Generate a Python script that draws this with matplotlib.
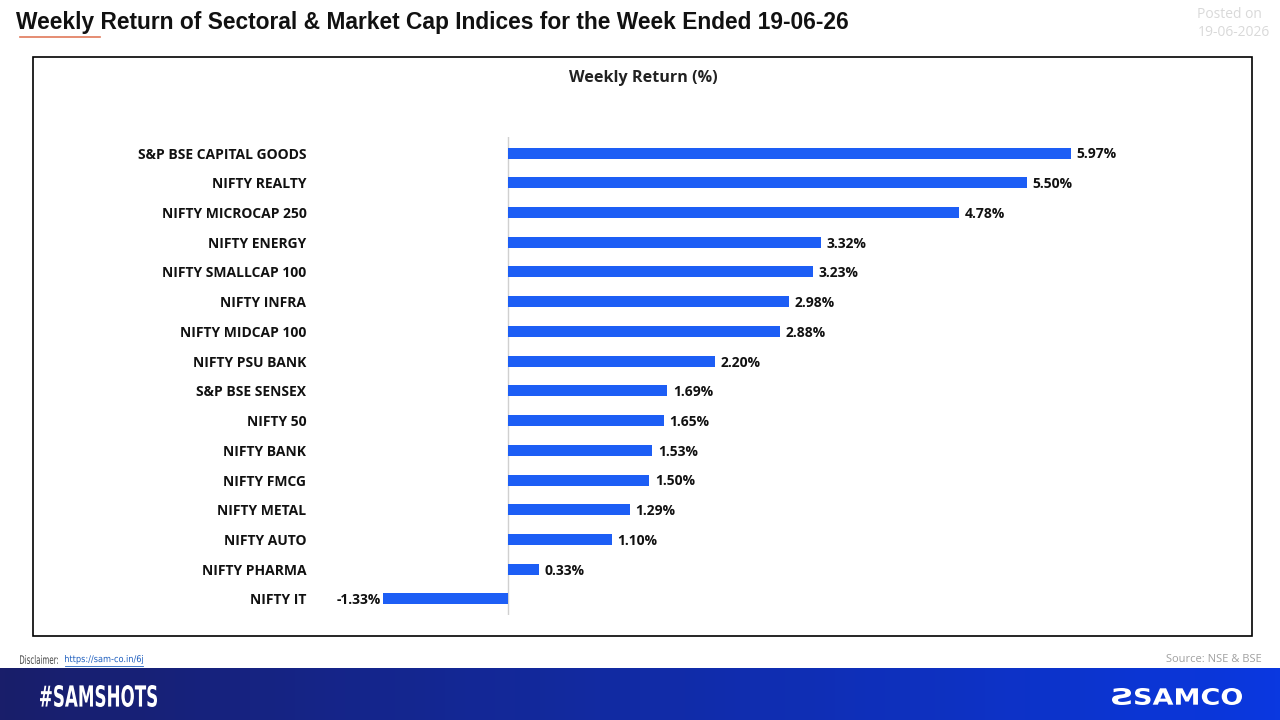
import numpy as np
import matplotlib
matplotlib.use("Agg")
import matplotlib.pyplot as plt
from matplotlib.patches import Rectangle, PathPatch
from matplotlib.lines import Line2D
from matplotlib.textpath import TextPath
from matplotlib.font_manager import FontProperties
from matplotlib.transforms import Affine2D

categories = ["S&P BSE CAPITAL GOODS", "NIFTY REALTY", "NIFTY MICROCAP 250", "NIFTY ENERGY",
              "NIFTY SMALLCAP 100", "NIFTY INFRA", "NIFTY MIDCAP 100", "NIFTY PSU BANK",
              "S&P BSE SENSEX", "NIFTY 50", "NIFTY BANK", "NIFTY FMCG", "NIFTY METAL",
              "NIFTY AUTO", "NIFTY PHARMA", "NIFTY IT"]
returns = [5.97, 5.50, 4.78, 3.32, 3.23, 2.98, 2.88, 2.20, 1.69, 1.65, 1.53, 1.50, 1.29, 1.10, 0.33, -1.33]

title = "Weekly Return of Sectoral & Market Cap Indices for the Week Ended 19-06-26"
chart_title = "Weekly Return (%)"

W, H = 1280, 720
fig = plt.figure(figsize=(12.8, 7.2), dpi=100)
fig.patch.set_facecolor("white")


def fx(px):
    return px / W


def fy(py):
    return 1 - py / H


# overlay axes in pixel coordinates (y up) for fitted text
ov = fig.add_axes([0, 0, 1, 1], zorder=5)
ov.set_xlim(0, W)
ov.set_ylim(0, H)
ov.set_axis_off()
ov.patch.set_alpha(0)


def fitted_text(s, x0, x1, ytop, ybot, color, family="DejaVu Sans", weight="bold", ref_h=None):
    fp = FontProperties(family=family, weight=weight)
    tp = TextPath((0, 0), s, size=1, prop=fp)
    ext = tp.get_extents()
    sx = (x1 - x0) / ext.width
    h = ref_h if ref_h is not None else ext.height
    sy = (ybot - ytop) / h
    tr = Affine2D().translate(-ext.x0, -ext.y0).scale(sx, sy).translate(x0, H - ybot)
    ov.add_patch(PathPatch(tr.transform_path(tp), facecolor=color, edgecolor="none", lw=0))


# Banner gradient
bax = fig.add_axes([0, 0, 1, 52 / H])
bax.set_axis_off()
c1 = np.array([0x19, 0x1e, 0x6a]) / 255
c2 = np.array([0x0a, 0x38, 0xe0]) / 255
t = np.linspace(0, 1, 256)
grad = (c1[None, :] * (1 - t[:, None]) + c2[None, :] * t[:, None])[None, :, :]
bax.imshow(grad, aspect="auto", extent=[0, 1, 0, 1])
bax.set_xlim(0, 1)
bax.set_ylim(0, 1)

fitted_text("#SAMSHOTS", 40, 157, 685, 707, "white")
fitted_text("SAMCO", 1135, 1242, 688, 705, "white", family="DejaVu Sans", weight="heavy")
fitted_text("\u01A7", 1112, 1131, 688, 705, "white")

# Outer box
fig.add_artist(Rectangle((fx(33), fy(636)), fx(1252) - fx(33), fy(57) - fy(636),
                         fill=False, edgecolor="black", lw=1.2, transform=fig.transFigure))

# Title & decorations
fig.text(fx(16), fy(22), title, fontsize=16.4, fontweight="bold", family="Liberation Sans",
         color="#111111", va="center", ha="left")
fig.add_artist(Line2D([fx(20), fx(100)], [fy(37), fy(37)], color="#e0795a", lw=1.2,
                      transform=fig.transFigure))
fig.text(fx(1262), fy(14), "Posted on", fontsize=10, color="#d9d9d9", ha="right", va="center",
         family="Open Sans")
fig.text(fx(1270), fy(33), "19-06-2026", fontsize=10, color="#d9d9d9", ha="right", va="center",
         family="Open Sans")
fitted_text("Disclaimer:", 20, 58, 655, 664, "#444444", weight="normal")
fitted_text("https://sam-co.in/6j", 65, 143, 655, 664, "#1f5fbf", weight="normal")
fig.add_artist(Line2D([fx(65), fx(143)], [fy(666), fy(666)], color="#1f5fbf", lw=0.6,
                      transform=fig.transFigure))
fig.text(fx(1262), fy(659), "Source: NSE & BSE", fontsize=8, color="#a0a0a0", ha="right",
         va="center", family="Open Sans")

# Chart
fig.text(fx(643), fy(78), chart_title, fontsize=11.6, fontweight="bold", family="Open Sans",
         color="#222222", ha="center", va="center")

ax = fig.add_axes([fx(330), fy(615), fx(1150) - fx(330), (615 - 137) / H])
y = np.arange(len(categories))
bar_color = "#1d5ef5"
ax.barh(y, returns, height=0.37, color=bar_color, zorder=2)
ax.set_xlim((330 - 508) / 94.3, (1150 - 508) / 94.3)
ax.set_ylim(15.54, -0.54)
ax.axvline(0, color="#d0d0d0", lw=1, zorder=1)
for s in ax.spines.values():
    s.set_visible(False)
ax.set_xticks([])
ax.set_yticks(y)
ax.set_yticklabels(categories, fontsize=10, fontweight="bold", family="Open Sans", color="#111111")
ax.tick_params(axis="y", length=0, pad=17)
ax.set_facecolor("none")

for yi, v in zip(y, returns):
    if v >= 0:
        ax.annotate(f"{v:.2f}%", (v, yi), xytext=(4, -1), textcoords="offset points",
                    ha="left", va="center", fontsize=10, fontweight="bold",
                    family="Open Sans", color="#111111")
    else:
        ax.annotate(f"{v:.2f}%", (v, yi), xytext=(-1, -1), textcoords="offset points",
                    ha="right", va="center", fontsize=10, fontweight="bold",
                    family="Open Sans", color="#111111")

fig.savefig("out.png", dpi=100)
